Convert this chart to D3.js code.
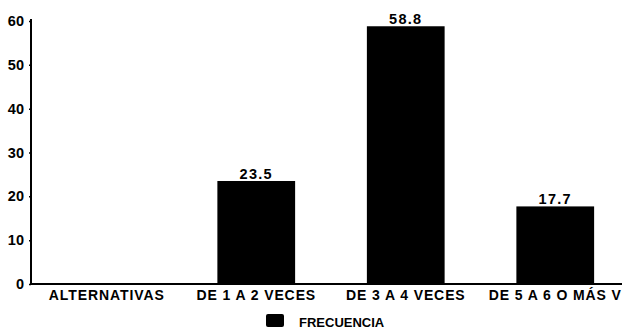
<!DOCTYPE html>
<html>
<head>
<meta charset="utf-8">
<script src="https://cdn.jsdelivr.net/npm/d3@7"></script>
<style>
  html, body { margin: 0; padding: 0; background: #fff; }
  svg { display: block; }
  text { font-family: "Liberation Sans", Arial, sans-serif; font-weight: bold; fill: #000; }
</style>
</head>
<body>
<svg id="chart" width="626" height="332"></svg>
<script>
// Frequency per answer option
const categories = ["ALTERNATIVAS", "DE 1 A 2 VECES", "DE 3 A 4 VECES", "DE 5 A 6 O MÁS V"];
const values = [null, 23.5, 58.8, 17.7];
const yTicks = [0, 10, 20, 30, 40, 50, 60];
const seriesName = "FRECUENCIA";

const data = categories.map((c, i) => ({ category: c, value: values[i] }));

const svg = d3.select("#chart");
const axisX = 31, axisY = 284, axisRight = 622;

const x = d3.scaleBand()
  .domain(categories)
  .range([32, 630])
  .paddingInner(0.48)
  .paddingOuter(0.24);

const y = d3.scaleLinear()
  .domain([0, 60])
  .range([axisY, 21]);

// Bars
svg.append("g")
  .selectAll("rect")
  .data(data.filter(d => d.value != null))
  .join("rect")
  .attr("x", d => x(d.category))
  .attr("y", d => y(d.value))
  .attr("width", x.bandwidth())
  .attr("height", d => y(0) - y(d.value))
  .attr("fill", "#000");

// Value labels above bars
svg.append("g")
  .selectAll("text")
  .data(data.filter(d => d.value != null))
  .join("text")
  .attr("x", d => x(d.category) + x.bandwidth() / 2)
  .attr("y", d => y(d.value) - 2)
  .attr("text-anchor", "middle")
  .style("font-size", "14.5px")
  .style("letter-spacing", "1.3px")
  .text(d => d.value.toFixed(1));

// Y axis
const yAxis = svg.append("g")
  .attr("transform", `translate(${axisX},0)`)
  .call(d3.axisLeft(y).tickValues(yTicks).tickSize(2).tickSizeOuter(0).tickPadding(5));
yAxis.select(".domain").remove();
yAxis.selectAll(".tick line").attr("stroke", "#000").attr("stroke-width", 1.5);
yAxis.selectAll(".tick text")
  .style("font-size", "14.5px")
  .style("font-family", "\"Liberation Sans\", Arial, sans-serif")
  .style("font-weight", "bold")
  .attr("fill", "#000");
svg.append("line")
  .attr("x1", axisX).attr("x2", axisX)
  .attr("y1", 19).attr("y2", axisY + 1)
  .attr("stroke", "#000").attr("stroke-width", 2);

// X axis
const xAxis = svg.append("g")
  .attr("transform", `translate(0,${axisY})`)
  .call(d3.axisBottom(x).tickSize(0).tickPadding(6));
xAxis.select(".domain").remove();
xAxis.selectAll(".tick text")
  .style("font-size", "14px")
  .style("letter-spacing", "0.9px")
  .style("font-family", "\"Liberation Sans\", Arial, sans-serif")
  .style("font-weight", "bold")
  .attr("fill", "#000");
svg.append("line")
  .attr("x1", axisX - 1).attr("x2", axisRight)
  .attr("y1", axisY).attr("y2", axisY)
  .attr("stroke", "#000").attr("stroke-width", 2);

// Legend
const legend = svg.append("g");
legend.append("rect")
  .attr("x", 266).attr("y", 314)
  .attr("width", 18).attr("height", 13)
  .attr("rx", 2)
  .attr("fill", "#000");
legend.append("text")
  .attr("x", 299).attr("y", 327)
  .style("font-size", "13px")
  .text(seriesName);
</script>
</body>
</html>
